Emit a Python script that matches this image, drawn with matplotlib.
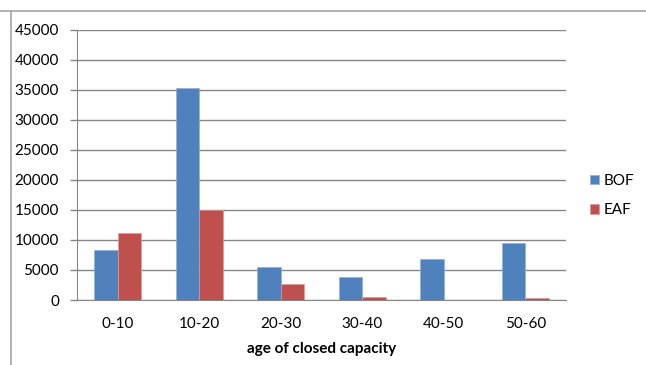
import matplotlib.pyplot as plt
from matplotlib.lines import Line2D
import numpy as np

plt.rcParams['font.family'] = ['Lato', 'DejaVu Sans']

categories = ["0-10", "10-20", "20-30", "30-40", "40-50", "50-60"]
bof = [8400, 35300, 5450, 3800, 6900, 9550]
eaf = [11200, 15000, 2700, 450, 0, 350]

BLUE = "#4F81BD"
RED = "#C0504D"
GRID = "#868686"

fig = plt.figure(figsize=(6.46, 3.65), dpi=100)
ax = fig.add_axes([77 / 646, 65 / 365, 489 / 646, 270.5 / 365])

x = np.arange(len(categories))
w = 0.286
ax.bar(x - w / 2, bof, w, color=BLUE, label="BOF", edgecolor="#8FB0DA", linewidth=0.5, zorder=3)
ax.bar(x + w / 2, eaf, w, color=RED, label="EAF", edgecolor="#E09A98", linewidth=0.5, zorder=3)

ax.set_xlim(-0.5, len(categories) - 0.5)
ax.set_ylim(0, 45000)
ax.set_yticks(range(0, 45001, 5000))
ax.set_xticks(x)
ax.set_xticklabels(categories)
ax.tick_params(axis="x", length=0, pad=12, labelsize=11)
ax.tick_params(axis="y", length=5, width=1, color=GRID, pad=8, labelsize=11)
ax.yaxis.grid(True, color=GRID, linewidth=1, zorder=0)

for side in ("top", "right"):
    ax.spines[side].set_visible(False)
for side in ("left", "bottom"):
    ax.spines[side].set_color(GRID)

ax.set_xlabel("age of closed capacity", fontsize=11, fontweight="bold", labelpad=8)

ax.legend(loc="center left", bbox_to_anchor=(1.02, 0.386), frameon=False,
          handlelength=0.6, handleheight=0.6, handletextpad=0.35,
          labelspacing=1.0, fontsize=11)

# table cell border around the chart
fig.add_artist(Line2D([0, 1], [1 - 11 / 365] * 2, color="#A6A6A6", linewidth=1.2))
fig.add_artist(Line2D([11 / 646] * 2, [0, 1 - 11 / 365], color="#A6A6A6", linewidth=1.2))

fig.savefig("out.png", dpi=100)
